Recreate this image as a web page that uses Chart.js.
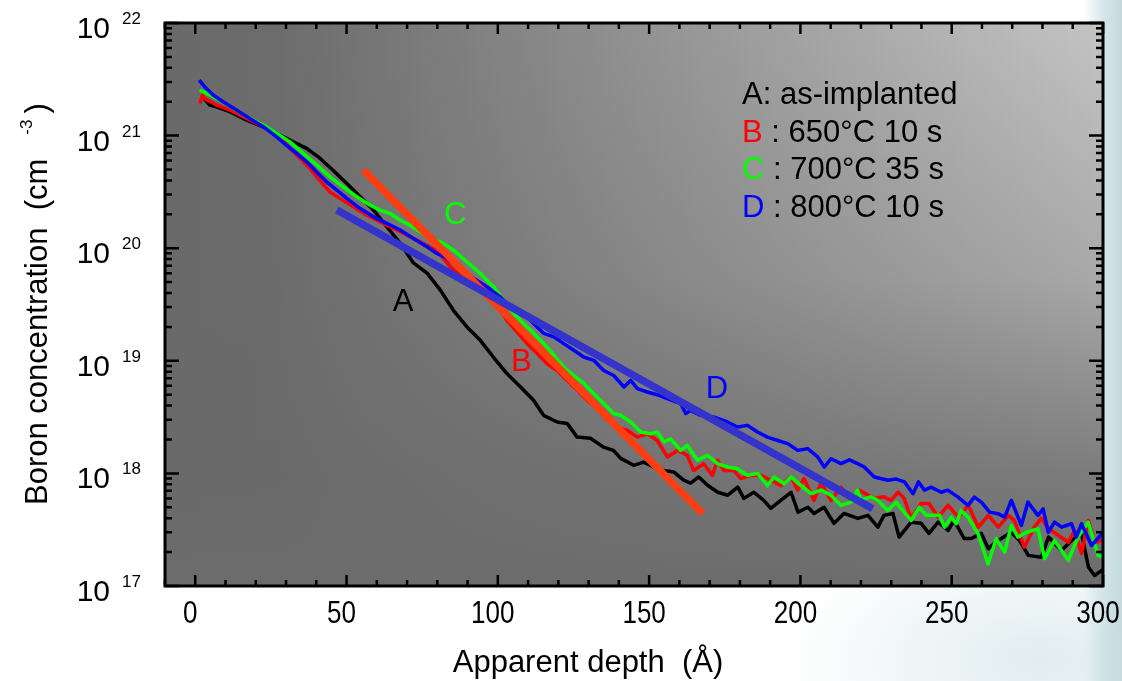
<!DOCTYPE html>
<html>
<head>
<meta charset="utf-8">
<script src="https://cdn.jsdelivr.net/npm/chart.js@4.4.1/dist/chart.umd.min.js"></script>
<style>
  html, body { margin: 0; padding: 0; }
  body {
    width: 1122px; height: 681px; overflow: hidden;
    background:
      radial-gradient(ellipse 260px 140px at 1040px 660px, rgba(200,222,226,0.55), rgba(255,255,255,0)),
      linear-gradient(to right, #ffffff 0%, #ffffff 96.5%, #d4e5e8 98.4%, #c3d9dc 100%);
  }
</style>
</head>
<body>
<canvas id="chart" width="1122" height="681"></canvas>
<script>
// depth in Angstrom, boron concentration in cm^-3
const depthA = [2.9,4.8,7.0,11.4,17.0,23.6,28.0,32.4,36.8,41.2,45.6,50.1,54.5,58.9,63.3,67.7,72.1,76.6,81.0,85.3,89.8,94.2,98.5,103.0,107.5,111.8,115.1,119.6,122.9,126.2,130.6,134.9,138.2,140.6,144.9,148.2,151.5,154.8,158.1,161.4,163.7,166.4,169.4,172.7,176.0,179.3,181.3,184.6,187.9,190.2,193.5,196.9,199.2,202.5,204.5,207.8,211.1,214.4,219.0,222.3,225.6,227.6,230.6,232.6,236.6,239.9,242.5,245.5,248.8,250.8,254.1,256.5,259.8,262.1,264.1,266.4,269.7,272.4,275.3,279.6,282.0,286.3,289.6,292.9,295.2,297.2,300.5];
const concA = [2.14e21,1.87e21,1.80e21,1.63e21,1.37e21,1.16e21,1.01e21,8.8e20,7.7e20,6.3e20,4.9e20,3.76e20,2.86e20,2.18e20,1.55e20,1.11e20,7.4e19,6.0e19,4.24e19,2.81e19,2.0e19,1.52e19,1.08e19,7.7e18,5.85e18,4.46e18,3.28e18,2.86e18,2.78e18,2.10e18,2.05e18,1.71e18,1.60e18,1.36e18,1.18e18,1.26e18,1.14e18,1.06e18,1.03e18,8.7e17,8.2e17,9.3e17,7.8e17,6.8e17,6.4e17,7.55e17,6.0e17,6.8e17,5.75e17,4.89e17,5.75e17,6.8e17,4.53e17,5.0e17,4.41e17,5.0e17,3.6e17,4.41e17,3.98e17,4.24e17,3.33e17,4.24e17,4.41e17,2.72e17,3.69e17,3.6e17,2.93e17,3.69e17,3.11e17,3.82e17,2.64e17,2.64e17,2.93e17,2.15e17,2.39e17,2.64e17,3.0e17,2.54e17,1.87e17,1.80e17,2.72e17,2.07e17,2.54e17,2.93e17,1.47e17,1.24e17,1.43e17];

const depthB = [1.5,2.4,3.1,7.0,11.4,17.0,23.6,28.0,31.3,34.6,37.9,41.2,44.5,47.8,52.3,56.7,61.1,66.6,72.1,76.6,80.3,84.3,89.8,95.2,99.7,103.0,106.4,109.7,113.0,116.3,119.6,122.9,126.2,129.5,132.8,136.2,139.5,142.8,146.1,149.4,152.7,156.0,159.3,162.6,164.7,168.0,170.9,172.6,174.7,178.0,180.3,183.6,186.9,190.2,193.5,196.9,199.1,201.2,204.5,206.8,210.1,213.4,216.7,219.4,224.3,227.6,229.9,232.3,234.3,236.6,239.9,242.5,245.5,248.8,252.2,255.5,258.8,262.1,265.4,268.7,270.7,274.0,277.3,279.6,282.0,285.3,288.6,290.6,292.9,295.2,297.2,300.5];
const concB = [1.93e21,2.29e21,2.14e21,1.87e21,1.69e21,1.42e21,1.16e21,9.75e20,7.7e20,6.3e20,5.1e20,4.0e20,3.16e20,2.77e20,2.33e20,1.96e20,1.71e20,1.45e20,1.22e20,1.06e20,9.3e19,6.8e19,5.2e19,4.09e19,3.22e19,2.29e19,1.80e19,1.42e19,1.16e19,9.4e18,8.2e18,6.7e18,5.5e18,4.46e18,3.76e18,2.96e18,2.58e18,2.41e18,2.10e18,2.25e18,1.96e18,1.40e18,1.60e18,1.45e18,1.06e18,1.22e18,9.6e17,1.31e18,1.06e18,1.06e18,9.0e17,9.6e17,9.6e17,8.7e17,7.8e17,9.3e17,7.1e17,9.0e17,5.75e17,8.2e17,5.75e17,7.55e17,5.75e17,7.1e17,6.0e17,6.2e17,5.75e17,6.8e17,6.0e17,3.98e17,5.4e17,5.4e17,4.09e17,5.2e17,4.09e17,5.2e17,3.33e17,4.24e17,3.33e17,4.24e17,3.82e17,2.21e17,3.33e17,4.0e17,3.24e17,2.81e17,2.45e17,3.11e17,1.95e17,3.82e17,2.39e17,2.64e17];

const depthC = [1.5,3.7,8.1,12.5,17.0,22.5,26.9,31.3,35.7,40.1,44.5,48.9,53.4,57.8,61.1,64.4,67.7,71.0,74.3,78.7,81.0,85.4,89.8,94.2,98.6,101.9,105.2,108.5,111.9,115.2,118.5,121.8,125.1,128.4,131.7,135.0,138.3,140.6,143.9,147.2,150.5,152.7,154.9,157.1,160.4,162.6,166.0,169.3,172.6,175.9,179.2,182.5,185.8,189.1,191.3,194.6,196.9,200.2,203.5,206.8,210.1,213.4,216.7,218.9,220.0,223.3,225.6,228.9,231.6,233.8,236.6,239.3,241.6,246.0,247.6,249.8,251.5,253.1,255.4,258.7,262.0,264.7,267.5,269.7,271.9,274.7,278.5,280.7,284.0,288.5,291.8,295.1,298.4,300.1];
const concC = [2.54e21,2.37e21,2.07e21,1.75e21,1.47e21,1.24e21,1.05e21,8.8e20,6.95e20,5.5e20,4.3e20,3.51e20,2.86e20,2.41e20,2.18e20,2.03e20,1.77e20,1.60e20,1.40e20,1.18e20,1.14e20,9.6e19,7.55e19,5.96e19,4.53e19,3.45e19,2.63e19,2.14e19,1.75e19,1.42e19,1.12e19,8.8e18,7.4e18,6.3e18,5.1e18,4.17e18,3.4e18,3.28e18,2.86e18,2.33e18,2.25e18,2.33e18,1.90e18,2.03e18,1.60e18,1.77e18,1.31e18,1.45e18,1.22e18,1.14e18,1.10e18,9.6e17,1.0e18,7.8e17,9.3e17,8.1e17,9.3e17,7.8e17,6.6e17,7.1e17,6.4e17,5.2e17,5.56e17,7.1e17,5.75e17,6.2e17,5.75e17,4.69e17,5.56e17,4.69e17,3.82e17,5.0e17,4.24e17,4.24e17,3.33e17,4.09e17,3.57e17,4.69e17,4.09e17,2.91e17,1.57e17,2.63e17,2.0e17,3.45e17,2.72e17,3.0e17,3.22e17,1.75e17,2.54e17,1.69e17,2.72e17,3.69e17,1.87e17,1.80e17];

const depthD = [1.3,3.1,5.9,9.2,13.6,18.0,22.5,26.9,30.2,33.5,36.8,40.1,43.4,46.8,50.1,54.5,58.9,63.3,67.7,72.1,76.6,79.9,83.2,87.6,92.0,96.4,100.8,105.2,109.7,113.0,115.2,118.5,121.8,125.1,128.4,131.7,135.0,138.3,141.7,143.9,146.1,149.4,152.7,156.0,160.4,162.1,163.7,167.0,171.5,175.9,179.2,182.5,185.8,189.1,192.5,195.8,199.1,202.4,205.7,207.9,210.1,213.4,216.2,218.9,221.1,224.4,228.9,231.6,234.4,237.2,239.0,241.0,243.2,246.5,248.7,252.1,255.4,257.5,259.8,262.5,265.3,267.5,269.7,273.0,275.2,278.5,280.2,281.9,284.0,286.3,289.6,291.2,292.9,296.2,300.1];
const concD = [3.11e21,2.72e21,2.29e21,2.0e21,1.69e21,1.42e21,1.20e21,9.75e20,8.2e20,6.95e20,5.85e20,4.76e20,3.88e20,3.28e20,2.77e20,2.25e20,1.90e20,1.66e20,1.45e20,1.22e20,1.03e20,8.97e19,8.1e19,6.4e19,5.4e19,4.53e19,3.69e19,2.81e19,2.45e19,2.0e19,1.75e19,1.63e19,1.42e19,1.24e19,1.08e19,1.01e19,8.2e18,7.4e18,5.85e18,6.7e18,5.66e18,5.28e18,5.0e18,4.61e18,4.17e18,3.40e18,3.63e18,3.28e18,3.16e18,2.86e18,2.58e18,2.67e18,2.33e18,2.10e18,1.96e18,1.84e18,1.60e18,1.66e18,1.40e18,1.14e18,1.35e18,1.22e18,1.32e18,1.22e18,1.14e18,9.3e17,8.7e17,8.9e17,8.4e17,6.6e17,8.4e17,7.1e17,7.55e17,6.8e17,7.1e17,6.15e17,5.2e17,6.15e17,5.56e17,4.53e17,4.39e17,4.09e17,5.75e17,3.45e17,5.56e17,4.24e17,4.85e17,3.0e17,3.69e17,3.33e17,3.57e17,2.72e17,3.57e17,2.29e17,3.0e17];

// straight-line fits (end points)
const fitBDepth = [55.6, 167.7];
const fitBConc = [4.93e20, 4.39e17];
const fitDDepth = [46.8, 223.9];
const fitDConc = [2.18e20, 4.85e17];

const xTickLabels = [0, 50, 100, 150, 200, 250, 300];
const yExponents = [17, 18, 19, 20, 21, 22];

const legendKeys = ['A', 'B', 'C', 'D'];
const legendTexts = [': as-implanted', ' : 650°C 10 s', ' : 700°C 35 s', ' : 800°C 10 s'];
const seriesColors = ['#000000', '#ff0000', '#00ff00', '#0000ff'];

// curve labels placed in data coordinates
const curveLabels = [
  { text: 'A', x: 68.7, y: 3.3e19, color: '#000000' },
  { text: 'B', x: 107.8, y: 9.7e18, color: '#ff0000' },
  { text: 'C', x: 85.9, y: 1.96e20, color: '#00ff00' },
  { text: 'D', x: 172.4, y: 5.6e18, color: '#0000ff' }
];

const FONT = '"Liberation Sans", Arial, sans-serif';

function pts(xs, ys) {
  return xs.map((x, i) => ({ x: x, y: ys[i] }));
}

const plotBg = {
  id: 'plotBg',
  beforeDraw(chart) {
    const ctx = chart.ctx;
    const a = chart.chartArea;
    ctx.save();
    const h = ctx.createLinearGradient(a.left, 0, a.right, 0);
    h.addColorStop(0, '#6a6a6a');
    h.addColorStop(0.12, '#6c6c6c');
    h.addColorStop(1, '#c4c4c4');
    ctx.fillStyle = h;
    ctx.fillRect(a.left, a.top, a.width, a.height);
    const v = ctx.createLinearGradient(0, a.top, 0, a.bottom);
    v.addColorStop(0, 'rgba(106,106,106,0)');
    v.addColorStop(0.45, 'rgba(106,106,106,0.3)');
    v.addColorStop(0.8, 'rgba(106,106,106,0.8)');
    v.addColorStop(1, 'rgba(108,108,108,1)');
    ctx.fillStyle = v;
    ctx.fillRect(a.left, a.top, a.width, a.height);
    ctx.restore();
  }
};

const frame = {
  id: 'frame',
  afterDraw(chart) {
    const ctx = chart.ctx;
    const a = chart.chartArea;
    const xs = chart.scales.x;
    const ys = chart.scales.y;
    ctx.save();
    ctx.strokeStyle = '#000';
    ctx.fillStyle = '#000';

    // ticks, pointing inward on all four sides
    ctx.lineWidth = 2.5;
    ctx.beginPath();
    for (let v = -10; v <= 300; v += 10) {
      const px = xs.getPixelForValue(v);
      const len = v % 50 === 0 ? 11 : 6;
      ctx.moveTo(px, a.bottom); ctx.lineTo(px, a.bottom - len);
      ctx.moveTo(px, a.top); ctx.lineTo(px, a.top + len);
    }
    for (let e = 17; e <= 22; e++) {
      for (let m = 1; m <= 9; m++) {
        if (e === 22 && m > 1) break;
        const py = ys.getPixelForValue(m * Math.pow(10, e));
        const len = m === 1 ? 14 : 7;
        ctx.moveTo(a.left, py); ctx.lineTo(a.left + len, py);
        ctx.moveTo(a.right, py); ctx.lineTo(a.right - len, py);
      }
    }
    ctx.stroke();

    // frame
    ctx.lineWidth = 3;
    ctx.strokeRect(a.left, a.top, a.width, a.height);

    // x tick labels (slightly condensed, as in the original)
    ctx.font = '31px ' + FONT;
    ctx.textAlign = 'center';
    ctx.textBaseline = 'alphabetic';
    xTickLabels.forEach(v => {
      ctx.save();
      ctx.translate(xs.getPixelForValue(v) - 5, 623);
      ctx.scale(0.84, 1);
      ctx.fillText(String(v), 0, 0);
      ctx.restore();
    });

    // y tick labels 10^n
    yExponents.forEach(e => {
      const py = ys.getPixelForValue(Math.pow(10, e));
      ctx.font = '30px ' + FONT;
      ctx.textAlign = 'right';
      ctx.fillText('10', 110, py + 15);
      ctx.font = '17px ' + FONT;
      ctx.textAlign = 'left';
      ctx.fillText(String(e), 122, py + 1);
    });

    // axis titles
    ctx.font = '31px ' + FONT;
    ctx.textAlign = 'center';
    ctx.fillText('Apparent depth  (Å)', 588, 672);

    ctx.save();
    ctx.translate(47, 505);
    ctx.rotate(-Math.PI / 2);
    ctx.textAlign = 'left';
    const main = 'Boron concentration  (cm';
    ctx.fillText(main, 0, 0);
    const w = ctx.measureText(main).width;
    ctx.font = '17px ' + FONT;
    ctx.fillText('-3', w + 24, -15);
    const w3 = ctx.measureText('-3').width;
    ctx.font = '31px ' + FONT;
    ctx.fillText(')', w + 24 + w3 + 6, 0);
    ctx.restore();

    // legend text block
    ctx.textAlign = 'left';
    legendKeys.forEach((k, i) => {
      const x = a.left + 577;
      const y = a.top + 81 + i * 37.7;
      ctx.font = '31px ' + FONT;
      ctx.fillStyle = seriesColors[i];
      ctx.fillText(k, x, y);
      const kw = ctx.measureText(k).width;
      ctx.fillStyle = '#000';
      ctx.fillText(legendTexts[i], x + kw, y);
    });

    // curve labels
    ctx.textAlign = 'center';
    ctx.textBaseline = 'middle';
    ctx.font = '31px ' + FONT;
    curveLabels.forEach(l => {
      ctx.fillStyle = l.color;
      ctx.fillText(l.text, xs.getPixelForValue(l.x), ys.getPixelForValue(l.y));
    });
    ctx.restore();
  }
};

function lineSet(label, data, color, width, order) {
  return {
    label: label,
    data: data,
    borderColor: color,
    borderWidth: width,
    pointRadius: 0,
    fill: false,
    tension: 0,
    borderJoinStyle: 'round',
    order: order
  };
}

new Chart(document.getElementById('chart').getContext('2d'), {
  type: 'line',
  data: {
    datasets: [
      lineSet('D fit', pts(fitDDepth, fitDConc), '#3434cc', 7.5, 0),
      lineSet('B fit', pts(fitBDepth, fitBConc), '#ff3e12', 7.5, 1),
      lineSet('D', pts(depthD, concD), seriesColors[3], 3.5, 2),
      lineSet('C', pts(depthC, concC), seriesColors[2], 3.5, 3),
      lineSet('B', pts(depthB, concB), seriesColors[1], 3.5, 4),
      lineSet('A', pts(depthA, concA), seriesColors[0], 3.5, 5)
    ]
  },
  options: {
    responsive: false,
    animation: false,
    layout: { padding: { top: 23, right: 19, left: 0, bottom: 0 } },
    plugins: {
      legend: { display: false },
      tooltip: { enabled: false }
    },
    scales: {
      x: {
        type: 'linear',
        min: -10,
        max: 300,
        ticks: { display: false },
        grid: { display: false },
        border: { display: false },
        afterFit: function (s) { s.height = 95; }
      },
      y: {
        type: 'logarithmic',
        min: 1e17,
        max: 1e22,
        ticks: { display: false },
        grid: { display: false },
        border: { display: false },
        afterFit: function (s) { s.width = 165; }
      }
    }
  },
  plugins: [plotBg, frame]
});
</script>
</body>
</html>
